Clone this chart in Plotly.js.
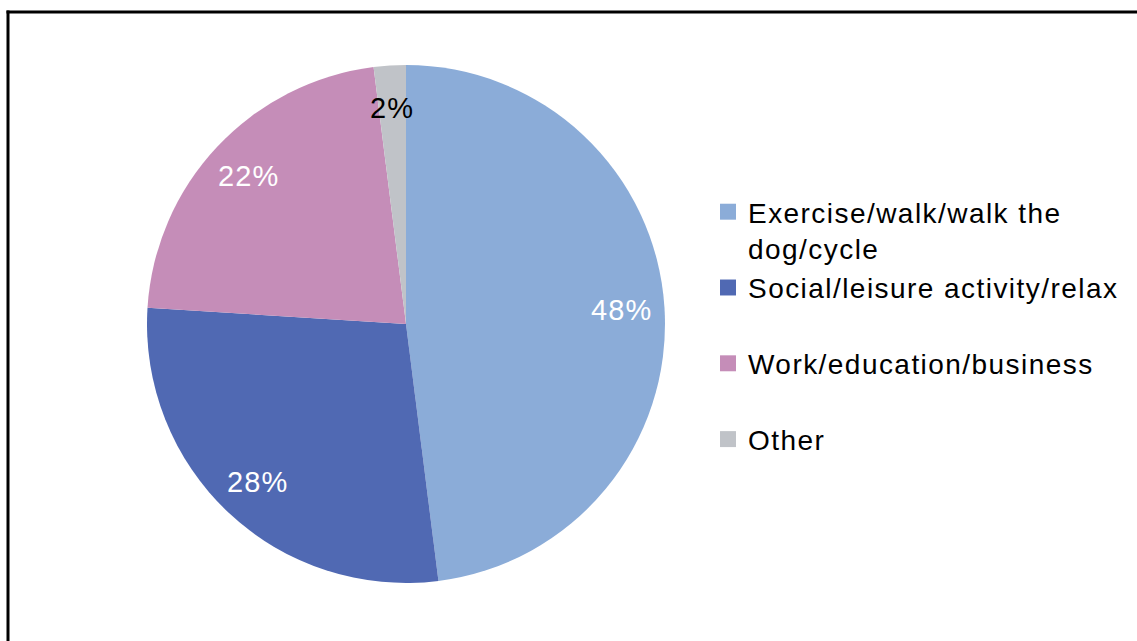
<!DOCTYPE html>
<html>
<head>
<meta charset="utf-8">
<script src="https://cdn.plot.ly/plotly-3.0.1.min.js"></script>
<style>
  html, body { margin: 0; padding: 0; background: #fff; }
  #chart { width: 1137px; height: 641px; }
  svg text { letter-spacing: 1.1px; }
  svg text.legendtext { letter-spacing: 1.45px; }
  #chart path.legendpie { transform: translate(20px, 0px) scale(1.33); }
</style>
</head>
<body>
<div id="chart"></div>
<script>
const categories = ["Exercise/walk/walk the<br>dog/cycle", "Social/leisure activity/relax<br> ", "Work/education/business<br> ", "Other"];
const values = [48, 28, 22, 2];
const sliceColors = ["#8BACD8", "#5069B3", "#C58DB8", "#C0C3C8"];
const labelColors = ["#FFFFFF", "#FFFFFF", "#FFFFFF", "#000000"];

const W = 1137, H = 641;
const cx = 406, cy = 324, R = 259;
const labelRadius = 0.835;

const total = values.reduce((a, b) => a + b, 0);
const annotations = [];
let cum = 0;
values.forEach((v, i) => {
  const mid = (cum + v / 2) / total * 2 * Math.PI;
  cum += v;
  const px = cx + labelRadius * R * Math.sin(mid);
  const py = cy - labelRadius * R * Math.cos(mid);
  annotations.push({
    xref: "paper", yref: "paper",
    x: px / W, y: 1 - py / H,
    xanchor: "center", yanchor: "middle",
    text: v + "%", showarrow: false,
    font: { family: "Liberation Sans, Arial, sans-serif", size: 29, color: labelColors[i] }
  });
});

const trace = {
  type: "pie",
  labels: categories,
  values: values,
  sort: false,
  direction: "clockwise",
  rotation: 0,
  marker: { colors: sliceColors, line: { width: 0 } },
  textinfo: "none",
  hoverinfo: "none",
  domain: {
    x: [(cx - R) / W, (cx + R) / W],
    y: [(H - cy - R) / H, (H - cy + R) / H]
  }
};

const layout = {
  width: W, height: H,
  margin: { l: 0, r: 0, t: 0, b: 0 },
  paper_bgcolor: "#FFFFFF",
  font: { family: "Liberation Sans, Arial, sans-serif", color: "#000000" },
  showlegend: true,
  legend: {
    x: 708 / W, xanchor: "left",
    y: 1 - 187 / H, yanchor: "top",
    valign: "top",
    font: { size: 28, color: "#000000" },
    bgcolor: "rgba(0,0,0,0)",
    borderwidth: 0
  },
  annotations: annotations,
  shapes: [
    { type: "line", xref: "paper", yref: "paper",
      x0: 8 / W, x1: 8 / W, y0: 0, y1: 1 - 10.5 / H,
      line: { color: "#000000", width: 3 } },
    { type: "line", xref: "paper", yref: "paper",
      x0: 6.5 / W, x1: 1, y0: 1 - 12 / H, y1: 1 - 12 / H,
      line: { color: "#000000", width: 3 } }
  ]
};

Plotly.newPlot("chart", [trace], layout, { displayModeBar: false, staticPlot: true });
</script>
</body>
</html>
